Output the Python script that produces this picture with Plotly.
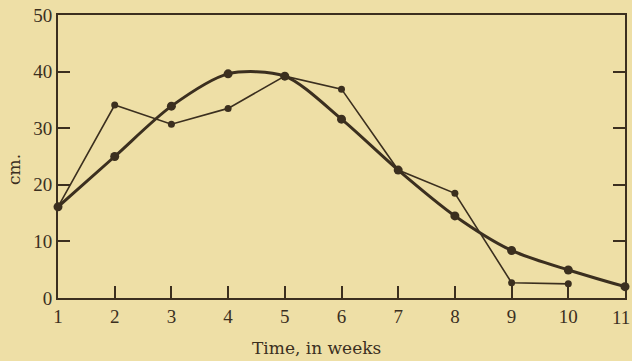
import plotly.graph_objects as go

# Weekly measurements (cm) — raw observations and the smoothed curve
weeks = [1, 2, 3, 4, 5, 6, 7, 8, 9, 10, 11]
smoothed_cm = [16.1, 25.0, 33.9, 39.6, 39.2, 31.6, 22.6, 14.5, 8.4, 4.95, 2.0]

raw_weeks = [1, 2, 3, 4, 5, 6, 7, 8, 9, 10]
raw_cm = [16.1, 34.1, 30.7, 33.5, 39.2, 36.9, 22.6, 18.5, 2.7, 2.5]

x_ticks = list(range(1, 12))
y_ticks = [0, 10, 20, 30, 40, 50]

ink = "#3b2f1f"
paper = "#eedfa6"
serif = "Liberation Serif, Times New Roman, serif"
title_serif = "DejaVu Serif, serif"

fig = go.Figure()

fig.add_trace(go.Scatter(
    x=raw_weeks, y=raw_cm, mode="lines+markers",
    line=dict(color=ink, width=1.6),
    marker=dict(color=ink, size=7),
    cliponaxis=False, showlegend=False,
))

fig.add_trace(go.Scatter(
    x=weeks, y=smoothed_cm, mode="lines+markers",
    line=dict(color=ink, width=3, shape="spline", smoothing=0.8),
    marker=dict(color=ink, size=9),
    cliponaxis=False, showlegend=False,
))

# the last week label sits at the right edge, so it is drawn tucked inward
x_labels = [str(v) for v in x_ticks[:-1]] + [""]

fig.update_xaxes(
    range=[1, 11], tickvals=x_ticks, ticktext=x_labels,
    ticks="inside", ticklen=12, tickwidth=1.5, tickcolor=ink,
    showline=True, linecolor=ink, linewidth=2, mirror=True,
    showgrid=False, zeroline=False, automargin=False,
    ticklabeloverflow="allow",
    tickfont=dict(family=serif, size=19, color=ink),
)
fig.update_yaxes(
    range=[0, 50], tickvals=y_ticks, ticktext=[str(v) for v in y_ticks],
    ticks="inside", ticklen=12, tickwidth=1.5, tickcolor=ink,
    showline=True, linecolor=ink, linewidth=2, mirror="ticks",
    showgrid=False, zeroline=False, automargin=False,
    ticklabeloverflow="allow",
    tickfont=dict(family=serif, size=19, color=ink),
)

fig.add_annotation(
    text=str(x_ticks[-1]), xref="x", yref="paper",
    x=x_ticks[-1], y=0, xshift=-4, yshift=-19, showarrow=False,
    xanchor="center", yanchor="middle",
    font=dict(family=serif, size=19, color=ink),
)

fig.add_annotation(
    text="Time, in weeks", xref="paper", yref="paper",
    x=(316 - 58) / (625 - 58), y=-50 / 283, showarrow=False,
    xanchor="center", yanchor="middle",
    font=dict(family=title_serif, size=17, color=ink),
)
fig.add_annotation(
    text="cm.", xref="paper", yref="paper",
    x=-44 / 567, y=(298 - 170) / 283, showarrow=False, textangle=-90,
    xanchor="center", yanchor="middle",
    font=dict(family=title_serif, size=17, color=ink),
)

fig.update_layout(
    width=632, height=361,
    margin=dict(l=58, r=7, t=15, b=63),
    paper_bgcolor=paper, plot_bgcolor=paper,
)

fig.write_html("out.html")
